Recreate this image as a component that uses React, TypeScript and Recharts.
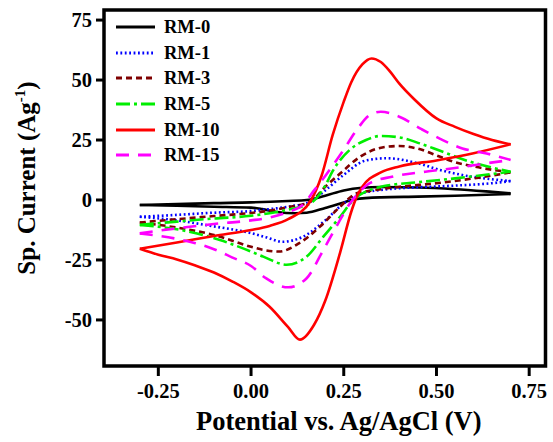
import React from "react";
import { LineChart, Line, XAxis, YAxis, ReferenceArea, Legend } from "recharts";

const FONT = '"Liberation Serif", "Times New Roman", serif';

// Potential (V) / current (A/g) pairs for each branch of each CV loop
const rm0UpV = [-0.3, -0.2, -0.1, 0, 0.1, 0.15, 0.2, 0.25, 0.3, 0.35, 0.45, 0.55, 0.65, 0.7];
const rm0UpI = [-2.1, -1.7, -1.3, -1, -0.4, 0, 1.8, 4, 5.1, 5.4, 5.2, 4.5, 3.4, 2.8];
const rm0DnV = [-0.3, -0.2, -0.1, 0, 0.03, 0.07, 0.12, 0.15, 0.2, 0.25, 0.28, 0.35, 0.45, 0.55, 0.7];
const rm0DnI = [-2.1, -2.4, -2.8, -3.2, -3.8, -5, -5.5, -5.3, -3.3, -1, 0.3, 1.1, 1.4, 1.8, 2.5];

const rm1UpV = [-0.3, -0.2, -0.1, 0, 0.05, 0.1, 0.16, 0.2, 0.25, 0.31, 0.366, 0.45, 0.51, 0.57, 0.7];
const rm1UpI = [-7, -6.2, -5.3, -4.6, -3.8, -2.8, -0.7, 4, 10.5, 16.5, 17.4, 15.3, 12.5, 10.4, 7.9];
const rm1DnV = [-0.3, -0.2, -0.1, 0, 0.04, 0.085, 0.14, 0.2, 0.25, 0.3, 0.37, 0.45, 0.55, 0.65, 0.7];
const rm1DnI = [-7, -8.5, -11, -13.8, -15.5, -17.4, -15.3, -8.5, -1.4, 2.8, 4.5, 5.3, 6, 7, 7.9];

const rm3UpV = [-0.3, -0.2, -0.1, 0, 0.05, 0.1, 0.16, 0.2, 0.24, 0.294, 0.357, 0.4, 0.447, 0.51, 0.545, 0.6, 0.7];
const rm3UpI = [-9.4, -8, -6.7, -5.4, -4.5, -3, -0.7, 5.5, 11, 18, 22, 22.5, 21.5, 18, 16, 14, 11.5];
const rm3DnV = [-0.3, -0.2, -0.1, 0, 0.033, 0.075, 0.13, 0.186, 0.24, 0.285, 0.32, 0.4, 0.5, 0.6, 0.7];
const rm3DnI = [-9.4, -11.5, -14.6, -19.5, -20.8, -21.5, -18, -11.1, -2.8, 2.8, 3.8, 5.5, 7, 9, 11.5];

const rm5UpV = [-0.3, -0.2, -0.1, 0, 0.05, 0.1, 0.16, 0.2, 0.22, 0.267, 0.31, 0.35, 0.4, 0.455, 0.51, 0.59, 0.7];
const rm5UpI = [-10.4, -9, -7.7, -6.6, -5.5, -4, -1.4, 6, 12, 21, 25, 26.7, 26.1, 23.6, 20.5, 16, 11.8];
const rm5DnV = [-0.3, -0.19, -0.084, 0, 0.033, 0.096, 0.15, 0.195, 0.24, 0.276, 0.35, 0.45, 0.55, 0.7];
const rm5DnI = [-10.4, -12.5, -16.7, -21.5, -23.6, -27, -23.6, -15.3, -7, 0, 5.5, 7.4, 9, 11.8];

const rm10UpV = [-0.3, -0.2, -0.1, 0, 0.05, 0.1, 0.16, 0.19, 0.22, 0.25, 0.27, 0.3, 0.325, 0.35, 0.375, 0.4, 0.44, 0.5, 0.55, 0.6, 0.65, 0.7];
const rm10UpI = [-20.3, -17.7, -15, -12.5, -10.8, -8, -0.5, 10, 27, 41, 49, 56.5, 59, 57.5, 53.5, 48.5, 42, 34, 30.5, 27.5, 25, 23.2];
const rm10DnV = [-0.3, -0.25, -0.2, -0.15, -0.1, -0.05, 0, 0.05, 0.1, 0.132, 0.17, 0.2, 0.24, 0.27, 0.285, 0.3, 0.35, 0.4, 0.5, 0.6, 0.7];
const rm10DnI = [-20.3, -22.8, -24.8, -27.3, -30.2, -34, -38.5, -44.5, -53, -58.2, -52, -42, -22, -5, 1.4, 5.5, 11.5, 14, 16.5, 19.5, 23.2];

const rm15UpV = [-0.3, -0.2, -0.1, 0, 0.05, 0.1, 0.14, 0.17, 0.2, 0.25, 0.285, 0.32, 0.35, 0.4, 0.46, 0.51, 0.57, 0.635, 0.7];
const rm15UpI = [-13.9, -11.8, -10, -8.5, -7.3, -5, -2, 4, 10, 21, 29.2, 35.4, 36.8, 34.7, 29.5, 25.5, 21.5, 19.4, 16.7];
const rm15DnV = [-0.3, -0.2, -0.15, -0.1, -0.05, 0, 0.04, 0.1, 0.15, 0.195, 0.23, 0.267, 0.29, 0.32, 0.38, 0.47, 0.545, 0.635, 0.7];
const rm15DnI = [-13.9, -16.2, -18, -20.5, -24, -27.5, -32.6, -36.4, -32.6, -20.8, -11.1, -1.4, 3, 7, 9.7, 11.8, 13.2, 15.3, 16.7];

const seriesNames = ["RM-0", "RM-1", "RM-3", "RM-5", "RM-10", "RM-15"];
const xTicks = [-0.25, 0, 0.25, 0.5, 0.75];
const yTicks = [-50, -25, 0, 25, 50, 75];
const X_DOMAIN: [number, number] = [-0.3965, 0.794];
const Y_DOMAIN: [number, number] = [-69.2, 79.2];

const toPts = (xs: number[], ys: number[]) => xs.map((x, i) => ({ x, y: ys[i] }));

const seriesData = [
  [toPts(rm0UpV, rm0UpI), toPts(rm0DnV, rm0DnI)],
  [toPts(rm1UpV, rm1UpI), toPts(rm1DnV, rm1DnI)],
  [toPts(rm3UpV, rm3UpI), toPts(rm3DnV, rm3DnI)],
  [toPts(rm5UpV, rm5UpI), toPts(rm5DnV, rm5DnI)],
  [toPts(rm10UpV, rm10UpI), toPts(rm10DnV, rm10DnI)],
  [toPts(rm15UpV, rm15UpI), toPts(rm15DnV, rm15DnI)],
];

const styles = [
  { color: "#000000", dash: undefined as string | undefined, width: 2.6 },
  { color: "#0000ff", dash: "1.8 2.6", width: 2.6 },
  { color: "#7f0000", dash: "6 4", width: 2.6 },
  { color: "#00ee00", dash: "14 4 3 4", width: 2.6 },
  { color: "#ff0000", dash: undefined, width: 2.6 },
  { color: "#ff00ff", dash: "13 9", width: 2.6 },
];

const renderLegend = () => (
  <div style={{ fontFamily: FONT, fontWeight: "bold", fontSize: 18.5, color: "#000" }}>
    {seriesNames.map((name, i) => (
      <div key={name} style={{ display: "flex", alignItems: "center", height: 25.7 }}>
        <svg width={39} height={8} style={{ marginRight: 9, display: "block" }}>
          <line x1={0} y1={4} x2={39} y2={4} stroke={styles[i].color} strokeWidth={2.8} strokeDasharray={styles[i].dash} />
        </svg>
        <span style={{ lineHeight: "20px" }}>{name}</span>
      </div>
    ))}
  </div>
);

const YTitle = (props: any) => {
  const vb = props.viewBox || { x: 0, y: 10, width: 104, height: 356 };
  const cx = 35;
  const cy = vb.y + vb.height / 2 - 10;
  return (
    <text
      x={cx}
      y={cy}
      transform={`rotate(-90, ${cx}, ${cy})`}
      textAnchor="middle"
      fontFamily={FONT}
      fontWeight="bold"
      fontSize={25}
      fill="#000"
    >
      Sp. Current (Ag
      <tspan dy={-10} fontSize={15}>-1</tspan>
      <tspan dy={10}>)</tspan>
    </text>
  );
};

const XTitle = (props: any) => {
  const vb = props.viewBox || { x: 104, y: 366, width: 441.5, height: 76 };
  return (
    <text
      x={vb.x + vb.width / 2 + 14}
      y={430}
      textAnchor="middle"
      fontFamily={FONT}
      fontWeight="bold"
      fontSize={26.5}
      fill="#000"
    >
      Potential vs. Ag/AgCl (V)
    </text>
  );
};

export default function App() {
  return (
    <div style={{ position: "absolute", left: 0, top: 0, background: "#fff" }}>
      <LineChart width={553} height={442} margin={{ top: 10, right: 7.5, bottom: 0, left: 0 }}>
        <XAxis
          type="number"
          dataKey="x"
          domain={X_DOMAIN}
          ticks={xTicks}
          allowDataOverflow
          height={76}
          axisLine={false}
          tickLine={{ stroke: "#000", strokeWidth: 3 }}
          tickSize={10}
          tickMargin={7}
          tick={{ fill: "#000", fontSize: 20.5, fontWeight: "bold", fontFamily: FONT }}
          tickFormatter={(v: number) => v.toFixed(2)}
          label={XTitle}
        />
        <YAxis
          type="number"
          domain={Y_DOMAIN}
          ticks={yTicks}
          allowDataOverflow
          width={104}
          axisLine={false}
          tickLine={{ stroke: "#000", strokeWidth: 3 }}
          tickSize={8}
          tickMargin={4}
          tick={{ fill: "#000", fontSize: 20.5, fontWeight: "bold", fontFamily: FONT }}
          label={YTitle}
        />
        <ReferenceArea
          x1={X_DOMAIN[0]}
          x2={X_DOMAIN[1]}
          y1={Y_DOMAIN[0]}
          y2={Y_DOMAIN[1]}
          fill="none"
          stroke="#000"
          strokeWidth={3.5}
          ifOverflow="visible"
        />
        {seriesData.map((branches, si) =>
          branches.map((pts, bi) => (
            <Line
              key={`${si}-${bi}`}
              data={pts}
              dataKey="y"
              type="monotone"
              dot={false}
              activeDot={false}
              stroke={styles[si].color}
              strokeWidth={styles[si].width}
              strokeDasharray={styles[si].dash}
              isAnimationActive={false}
              legendType="none"
            />
          ))
        )}
        <Legend
          content={renderLegend}
          layout="horizontal"
          verticalAlign="middle"
          align="center"
          wrapperStyle={{ position: "absolute", left: 116, top: 14, width: 120, height: 160 }}
        />
      </LineChart>
    </div>
  );
}
